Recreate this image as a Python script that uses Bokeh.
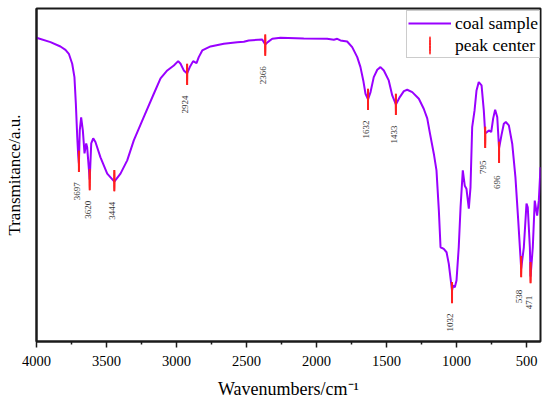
import numpy as np
from bokeh.plotting import figure
from bokeh.models import Range1d, FixedTicker, Legend, LegendItem, ColumnDataSource
from bokeh.core.properties import value
from bokeh.embed import file_html
from bokeh.resources import INLINE

# FTIR spectrum of the coal sample
wavenumber = [4000, 3900, 3829, 3793, 3769, 3745, 3729, 3719, 3709, 3702,
              3697, 3691, 3681, 3669, 3657, 3645, 3638, 3620, 3609, 3595,
              3579, 3543, 3495, 3444, 3400, 3352, 3305, 3234, 3162, 3114,
              3066, 3019, 2988, 2971, 2948, 2924, 2905, 2881, 2857, 2841,
              2816, 2757, 2662, 2566, 2519, 2484, 2388, 2366, 2348, 2316,
              2257, 2091, 1924, 1876, 1852, 1829, 1781, 1745, 1709, 1686,
              1666, 1650, 1632, 1614, 1591, 1566, 1543, 1519, 1484, 1459,
              1433, 1405, 1376, 1352, 1316, 1269, 1234, 1209, 1191, 1162,
              1143, 1126, 1114, 1091, 1071, 1055, 1032, 1024, 1012, 1000,
              984, 971, 955, 941, 929, 912, 900, 888, 871, 857,
              841, 821, 805, 795, 781, 769, 752, 738, 724, 709,
              696, 679, 662, 648, 626, 602, 579, 559, 538, 519,
              500, 491, 476, 471, 455, 441, 424, 412, 400]
transmittance = [91.2, 89.9, 88.6, 87.6, 86.4, 83.4, 79.4, 71.5, 61.4, 55.9,
                 53.5, 63.4, 67.3, 63.4, 56.5, 59.5, 58.3, 48.6, 59.5, 61.0,
                 59.9, 55.3, 50.4, 48.0, 50.4, 54.4, 60.4, 67.4, 74.4, 79.0,
                 81.4, 82.9, 84.2, 83.4, 81.4, 80.5, 82.4, 84.2, 83.6, 85.4,
                 87.4, 88.6, 89.4, 89.9, 90.0, 90.4, 90.7, 89.2, 89.9, 90.9,
                 91.2, 91.0, 90.9, 90.6, 90.9, 90.4, 90.1, 88.4, 85.4, 82.4,
                 78.4, 74.4, 72.7, 74.9, 79.4, 81.6, 82.4, 81.4, 78.4, 73.9,
                 71.2, 73.4, 75.2, 75.6, 74.9, 72.9, 69.9, 67.0, 62.8, 56.4,
                 51.4, 39.3, 28.3, 27.8, 26.8, 23.3, 15.3, 16.8, 16.3, 18.3,
                 28.3, 40.3, 51.4, 46.8, 45.9, 39.9, 46.3, 64.4, 69.4, 75.4,
                 77.9, 76.9, 69.4, 62.5, 62.9, 63.4, 62.9, 67.0, 69.6, 67.4,
                 58.0, 61.9, 65.4, 65.9, 64.9, 59.4, 49.3, 36.3, 21.9, 28.3,
                 41.4, 40.3, 28.3, 19.5, 28.3, 42.3, 37.8, 42.3, 52.3]

# peak centres
peak_wn = [3697, 3620, 3444, 2924, 2366, 1632, 1433, 1032, 795, 696, 538, 471]
peak_T = [54.1, 48.6, 48.3, 80.2, 89.0, 72.7, 71.2, 14.7, 61.3, 56.8, 22.5, 20.7]
peak_labels = [str(w) for w in peak_wn]

x_major = [4000, 3500, 3000, 2500, 2000, 1500, 1000, 500]
x_minor = [3750, 3250, 2750, 2250, 1750, 1250, 750]

PURPLE = "#9900ff"
RED = "#ff1f1f"
SERIF = "Liberation Serif"
HALF = 3.2  # half length of the peak marker, in y units

p = figure(width=550, height=402, output_backend="svg", toolbar_location=None,
           x_range=Range1d(4000, 400), y_range=Range1d(0, 100),
           min_border_left=36, min_border_right=10, min_border_top=8,
           min_border_bottom=61)
p.xgrid.visible = False
p.ygrid.visible = False
p.outline_line_color = "#1a1a1a"
p.outline_line_width = 2
p.background_fill_color = "white"
p.border_fill_color = "white"

line_r = p.line(wavenumber, transmittance, line_color=PURPLE, line_width=2)

src = ColumnDataSource(dict(
    x=peak_wn, y=peak_T,
    top=[t + HALF for t in peak_T], bottom=[t - HALF for t in peak_T],
    label=peak_labels))

ell_r = p.ellipse(x="x", y="y", width=1, height=21, width_units="screen",
                  height_units="screen", fill_color=RED, line_color=RED,
                  line_width=1, source=src)
p.segment(x0="x", y0="top", x1="x", y1="bottom", source=src,
          line_color=RED, line_width=2)
p.text(x="x", y="y", text="label", source=src, angle=np.pi / 2,
       text_align="center", text_baseline="middle", x_offset=-2, y_offset=30,
       text_font=value(SERIF), text_font_size="9px", text_color="#333333")

legend = Legend(items=[LegendItem(label="coal sample", renderers=[line_r]),
                       LegendItem(label="peak center", renderers=[ell_r])],
                location=(370, 283), padding=1, spacing=0, margin=0,
                glyph_width=43, glyph_height=22, label_height=22,
                label_standoff=4, label_text_font=SERIF,
                label_text_font_size="17.5px", label_text_color="black",
                border_line_color="#9a9a9a", border_line_width=1,
                background_fill_color="white", background_fill_alpha=1)
p.add_layout(legend)

xa = p.xaxis[0]
xa.ticker = FixedTicker(ticks=x_major, minor_ticks=x_minor)
xa.major_tick_out = 6
xa.major_tick_in = 0
xa.minor_tick_out = 3
xa.minor_tick_in = 0
xa.major_tick_line_width = 1.5
xa.minor_tick_line_width = 1.5
xa.major_tick_line_color = "#1a1a1a"
xa.minor_tick_line_color = "#1a1a1a"
xa.axis_line_width = 2
xa.axis_line_color = "#1a1a1a"
xa.major_label_text_font = SERIF
xa.major_label_text_font_size = "14.5px"
xa.major_label_text_color = "black"
xa.major_label_standoff = 8
xa.axis_label = "Wavenumbers/cm\u207b\u00b9"
xa.axis_label_text_font = SERIF
xa.axis_label_text_font_size = "18px"
xa.axis_label_text_font_style = "normal"
xa.axis_label_text_color = "black"
xa.axis_label_standoff = 10

ya = p.yaxis[0]
ya.ticker = FixedTicker(ticks=[])
ya.major_tick_out = 0
ya.minor_tick_out = 0
ya.axis_line_width = 2
ya.axis_line_color = "#1a1a1a"
ya.axis_label = "Transmitance/a.u."
ya.axis_label_text_font = SERIF
ya.axis_label_text_font_size = "17px"
ya.axis_label_text_font_style = "normal"
ya.axis_label_text_color = "black"
ya.axis_label_standoff = 13

open("out.html", "w").write(file_html(p, INLINE))
